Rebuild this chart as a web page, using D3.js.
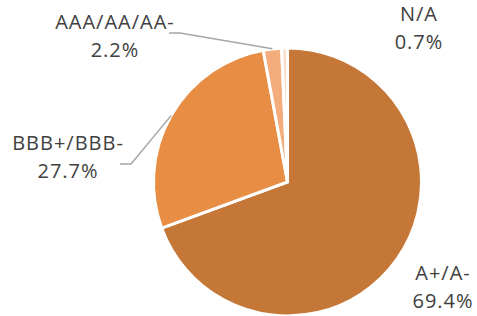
<!DOCTYPE html>
<html>
<head>
<meta charset="utf-8">
<script src="https://cdn.jsdelivr.net/npm/d3@7"></script>
<style>
  html, body { margin: 0; padding: 0; background: #fff; }
  svg text { font-family: "Open Sans", "Noto Sans", sans-serif; font-size: 20px; fill: #404040; }
</style>
</head>
<body>
<svg id="chart" width="477" height="316"></svg>
<script>
// chart data
var categories = ['A+/A-', 'BBB+/BBB-', 'AAA/AA/AA-', 'N/A'];
var shares = [69.4, 27.7, 2.2, 0.7];
var sliceColors = ['#C47737', '#E88D44', '#F4AC7C', '#F9DCC8'];

// layout (not data): label centre x / first baseline, and whether a leader line is drawn
var labelLayout = [
    { x: 443, y: 280, leader: false },
    { x: 68,  y: 150, leader: true, elbow: 131 },
    { x: 115, y: 29,  leader: true, elbow: 180 },
    { x: 419, y: 21,  leader: false }
];

var svg = d3.select('#chart');
var cx = 287.5, cy = 182, radius = 134;
var lineGap = 28;

var g = svg.append('g').attr('transform', 'translate(' + cx + ',' + cy + ')');

var pie = d3.pie().sort(null).value(function(d) { return d; });
var arcs = pie(shares);

var arc = d3.arc().innerRadius(0).outerRadius(radius);
var edge = d3.arc().innerRadius(radius).outerRadius(radius);

g.selectAll('path.slice')
    .data(arcs)
    .enter().append('path')
    .attr('class', 'slice')
    .attr('d', arc)
    .attr('fill', function(d, i) { return sliceColors[i]; })
    .attr('stroke', '#fff')
    .attr('stroke-width', 3)
    .attr('stroke-linejoin', 'miter');

// leader lines, from the slice's outer edge midpoint to the label
arcs.forEach(function(d, i) {
    var lay = labelLayout[i];
    if (!lay.leader) return;
    var p = edge.centroid(d);
    var sx = p[0] + cx, sy = p[1] + cy;
    var ly = lay.y + (i === 1 ? lineGap / 2 : 4);
    var ex = lay.elbow - 11;
    svg.append('polyline')
        .attr('points', [[sx, sy], [lay.elbow, ly], [ex, ly]].map(function(q) { return q.join(','); }).join(' '))
        .attr('fill', 'none')
        .attr('stroke', '#A6A6A6')
        .attr('stroke-width', 1.5);
});

// data labels
arcs.forEach(function(d, i) {
    var lay = labelLayout[i];
    var t = svg.append('text')
        .attr('text-anchor', 'middle')
        .attr('x', lay.x)
        .attr('y', lay.y);
    t.append('tspan').attr('x', lay.x).attr('letter-spacing', '1px').text(categories[i]);
    t.append('tspan').attr('x', lay.x).attr('dy', lineGap).attr('letter-spacing', '1px').text(d3.format('.1f')(shares[i]) + '%');
});
</script>
</body>
</html>
